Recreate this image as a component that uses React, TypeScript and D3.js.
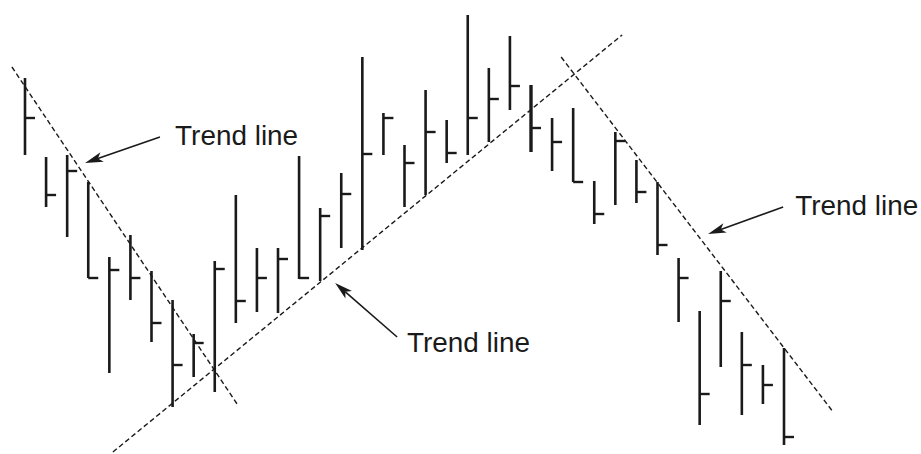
import React from "react";
import * as d3 from "d3";

// Bar data (price units; higher = up). Index = trading session.
const highs = [376, 297, 299, 272, 197, 219, 183, 154, 120, 193, 259, 206, 206, 298, 246, 281, 397, 341, 309, 364, 334, 439, 386, 418, 369, 336, 346, 273, 322, 294, 272, 196, 143, 183, 122, 89, 106];
const lows = [299, 247, 217, 176, 81, 154, 112, 47, 77, 62, 131, 142, 141, 175, 173, 206, 204, 299, 247, 259, 291, 299, 312, 344, 302, 283, 272, 230, 249, 251, 199, 132, 29, 87, 39, 50, 9];
const closes = [336, 259, 283, 176, 184, 176, 131, 89, 111, 185, 153, 176, 195, 176, 238, 260, 300, 336, 291, 322, 301, 336, 355, 368, 326, 312, 272, 240, 313, 262, 209, 176, 60, 153, 89, 69, 17];
const heavyBars = [24];

// Trend lines: [session index, price]
const trend1 = [[-0.62, 387], [10.06, 50]];
const trend2 = [[4.17, 2], [28.32, 419]];
const trend3 = [[25.43, 397], [38.33, 42]];

// Annotations: label, arrow tail and tip as [session index, price]
const labels = ["Trend line", "Trend line", "Trend line"];
const labelAnchors = [[7.12, 309], [18.12, 102], [36.53, 239]];
const arrowTails = [[6.4, 317], [17.65, 117], [35.96, 247]];
const arrowTips = [[2.85, 291], [14.71, 171], [32.4, 220]];

const W = 921;
const H = 454;

export default function App() {
  const x = d3.scaleLinear().domain([0, 36]).range([25, 784]);
  const y = d3.scaleLinear().domain([0, 454]).range([454, 0]);
  const ink = "#1a1a1a";
  const tick = 10;
  const line = d3.line<number[]>().x((d) => x(d[0])).y((d) => y(d[1]));

  const arrow = (i: number) => {
    const tx = x(arrowTails[i][0]);
    const ty = y(arrowTails[i][1]);
    const hx = x(arrowTips[i][0]);
    const hy = y(arrowTips[i][1]);
    const ang = Math.atan2(hy - ty, hx - tx);
    const len = 18;
    const hw = 5;
    const bx = hx - len * Math.cos(ang);
    const by = hy - len * Math.sin(ang);
    const px = -Math.sin(ang) * hw;
    const py = Math.cos(ang) * hw;
    const mx = hx - (len * 0.75) * Math.cos(ang);
    const my = hy - (len * 0.75) * Math.sin(ang);
    return (
      <g key={"a" + i}>
        <line x1={tx} y1={ty} x2={mx} y2={my} stroke={ink} strokeWidth={1.6} />
        <path
          d={`M${hx},${hy}L${bx + px},${by + py}L${mx},${my}L${bx - px},${by - py}Z`}
          fill={ink}
        />
      </g>
    );
  };

  return (
    <svg
      width={W}
      height={H}
      style={{ position: "absolute", left: 0, top: 0, background: "#fff" }}
    >
      <rect width={W} height={H} fill="#fff" />
      {[trend1, trend2, trend3].map((t, i) => (
        <path
          key={"t" + i}
          d={line(t) || ""}
          fill="none"
          stroke={ink}
          strokeWidth={1.4}
          strokeDasharray="5,3"
        />
      ))}
      {highs.map((h, i) => {
        const sw = heavyBars.includes(i) ? 3.4 : 2.6;
        const cx = x(i);
        return (
          <g key={"b" + i}>
            <line x1={cx} x2={cx} y1={y(h)} y2={y(lows[i])} stroke={ink} strokeWidth={sw} />
            <line
              x1={cx}
              x2={cx + tick}
              y1={y(closes[i])}
              y2={y(closes[i])}
              stroke={ink}
              strokeWidth={2.4}
            />
          </g>
        );
      })}
      {labels.map((l, i) => (
        <text
          key={"l" + i}
          x={x(labelAnchors[i][0])}
          y={y(labelAnchors[i][1])}
          fontFamily="'Liberation Sans', Arial, sans-serif"
          fontSize={28}
          fill={ink}
          textLength={123}
          lengthAdjust="spacingAndGlyphs"
        >
          {l}
        </text>
      ))}
      {labels.map((_, i) => arrow(i))}
    </svg>
  );
}
